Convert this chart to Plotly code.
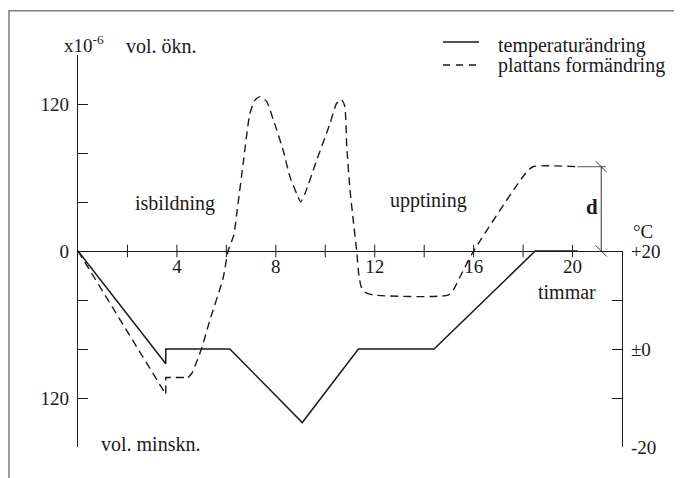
import plotly.graph_objects as go

# ---------------- data ----------------
# temperature change (°C) vs hours
temp_hours = [0, 3.55, 3.55, 6.14, 9.07, 11.34, 14.4, 18.49, 20.2]
temp_c = [20, -3, 0, 0, -15, 0, 0, 20, 20]

# plate deformation (x10^-6) vs hours, straight part
form_hours_a = [0, 3.55, 3.55, 4.45]
form_vals_a = [0, -117, -103.3, -103.3]
# plate deformation, smooth part
form_hours_b = [4.45, 4.6, 4.75, 5.0, 5.34, 5.87, 6.07, 6.3, 6.44, 6.68, 6.95, 7.15, 7.36,
                7.63, 7.9, 8.3, 8.57, 8.84, 9.0, 9.18, 9.65, 10.19, 10.46, 10.64, 10.78,
                10.87, 11.0, 11.13, 11.27, 11.36, 11.45, 11.6, 11.94, 14.97, 15.2, 15.45,
                16.0, 18.1, 18.4, 20.2]
form_vals_b = [-103.3, -100, -93, -79.4, -56, -22, 0, 13, 33.5, 71.6, 112, 123, 126,
               122, 107, 82, 60.7, 47, 40.2, 47, 74, 104, 120.6, 123.8, 119,
               85, 50, 25.3, 0, -20, -29, -33.5, -35.9, -36, -31, -21,
               0, 63.5, 68.8, 68.8]

# "d" measure
d_hour = 21.16
d_vals = [0, 68.8]
d_top_hours = [20.2, 21.35]

# axis ticks / labels
x_tick_hours = [2, 4, 6, 8, 10, 12, 14, 16, 18, 20]
x_label_hours = [4, 8, 12, 16, 20]
y_tickvals = [-160, -120, -80, -40, 0, 40, 80, 120, 160]
y_ticktext = ["", "120", "", "", "0", "", "", "120", ""]
t_tickvals = [-20, -10, 0, 10, 20]
t_ticktext = ["-20", "", "±0", "", "+20"]

FONT = "Liberation Serif"
INK = "#1a1a1a"
# page body has an 8px margin; figure is sized/placed so target pixels line up
OFF = 8
W, H = 682 - OFF, 478 - OFF
PL, PT, PW, PH = 78, 55, 544, 392          # plot area in target pixels
L, T = PL - OFF, PT - OFF
R, B = W - L - PW, H - T - PH


def P(px):
    return (px - PL) / PW


def Q(py):
    return (PT + PH - py) / PH


fig = go.Figure()

# temperature (solid) on hidden y2 in °C
fig.add_trace(go.Scatter(x=temp_hours, y=temp_c, yaxis="y2", mode="lines",
                         line=dict(color=INK, width=1.5), hoverinfo="skip",
                         showlegend=False))
# deformation (dashed)
fig.add_trace(go.Scatter(x=form_hours_a, y=form_vals_a, mode="lines",
                         line=dict(color=INK, width=1.4, dash="8px,5px"),
                         hoverinfo="skip", showlegend=False))
fig.add_trace(go.Scatter(x=form_hours_b, y=form_vals_b, mode="lines",
                         line=dict(color=INK, width=1.4, dash="8px,5px",
                                   shape="spline", smoothing=0.6),
                         hoverinfo="skip", showlegend=False))
# d measure
fig.add_trace(go.Scatter(x=d_top_hours, y=[d_vals[1], d_vals[1]], mode="lines",
                         line=dict(color="#555", width=1),
                         hoverinfo="skip", showlegend=False))
fig.add_trace(go.Scatter(x=[d_hour, d_hour], y=d_vals, mode="lines+markers",
                         line=dict(color="#333", width=1),
                         marker=dict(symbol="line-nw", size=11,
                                     line=dict(color="#333", width=1)),
                         hoverinfo="skip", showlegend=False))
# crossing ticks on x axis
fig.add_trace(go.Scatter(x=x_tick_hours, y=[0] * len(x_tick_hours), mode="markers",
                         marker=dict(symbol="line-ns", size=9,
                                     line=dict(color=INK, width=1)),
                         hoverinfo="skip", showlegend=False, cliponaxis=False))
# anchor trace for display-only right axis
fig.add_trace(go.Scatter(x=[0], y=[0], yaxis="y3", mode="markers",
                         marker=dict(opacity=0), hoverinfo="skip", showlegend=False))

tickfont = dict(family=FONT, size=19, color=INK)

fig.update_layout(
    width=W, height=H, autosize=False,
    margin=dict(l=L, r=R, t=T, b=B, pad=0),
    paper_bgcolor="white", plot_bgcolor="rgba(0,0,0,0)",
    font=dict(family=FONT, size=20, color=INK),
    xaxis=dict(range=[0, 22], anchor="free", position=0.5, showline=True,
               linecolor=INK, linewidth=1.2, showgrid=False, zeroline=False,
               tickvals=x_label_hours, ticktext=[str(v) for v in x_label_hours],
               ticks="", ticklabelstandoff=-2, tickfont=tickfont, layer="above traces"),
    yaxis=dict(range=[-160, 160], showline=True, linecolor=INK, linewidth=1.2,
               showgrid=False, zeroline=False, tickvals=y_tickvals,
               ticktext=y_ticktext, ticks="inside", ticklen=10, tickcolor=INK,
               tickwidth=1.2, tickfont=tickfont, ticklabelstandoff=4),
    yaxis2=dict(range=[-20, 60], overlaying="y", visible=False),
    yaxis3=dict(range=[-20, 20], domain=[0, 0.5], anchor="x", side="right",
                showline=True, linecolor=INK, linewidth=1.2, showgrid=False,
                zeroline=False, tickvals=t_tickvals, ticktext=t_ticktext,
                ticks="inside", ticklen=10, tickcolor=INK, tickwidth=1.2,
                tickfont=tickfont, ticklabelstandoff=4),
)

# frame
fig.add_shape(type="rect", xref="paper", yref="paper", x0=P(9), x1=P(740),
              y0=Q(530), y1=Q(10.7), line=dict(color="#7f7f7f", width=1.5))
# legend samples
fig.add_shape(type="line", xref="paper", yref="paper", x0=P(443), x1=P(479),
              y0=Q(42), y1=Q(42), line=dict(color=INK, width=1.4))
fig.add_shape(type="line", xref="paper", yref="paper", x0=P(443), x1=P(479),
              y0=Q(65), y1=Q(65), line=dict(color=INK, width=1.4, dash="7px,6px"))


def ann(text, px, py, xanchor="left", size=20, **kw):
    fig.add_annotation(text=text, x=P(px), y=Q(py), xref="paper", yref="paper",
                       xanchor=xanchor, yanchor="middle", showarrow=False,
                       font=dict(family=FONT, size=size, color=INK), **kw)


ann("temperaturändring", 496, 46)
ann("plattans formändring", 496, 66)
ann("x10<sup>-6</sup>", 62, 44, size=19)
ann("vol. ökn.", 124, 46)
ann("vol. minskn.", 99, 444)
ann("isbildning", 133, 203)
ann("upptining", 388, 200)
ann("<b>d</b>", 592, 207, xanchor="center", size=21)
ann("°C", 643, 231, xanchor="center", size=19)
ann("timmar", 567, 292, xanchor="center")

fig.write_html("out.html")
